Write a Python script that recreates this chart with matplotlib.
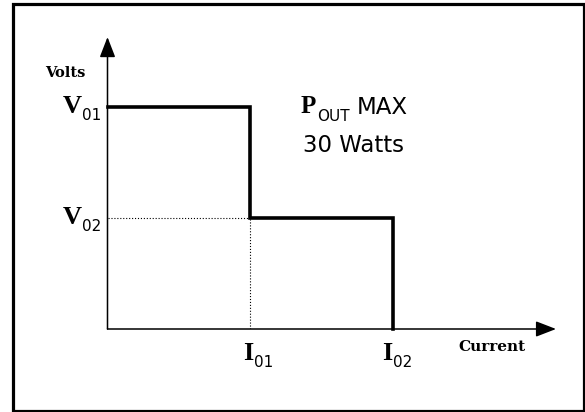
import matplotlib.pyplot as plt
from matplotlib.patches import Rectangle

# puntos de operacion (unidades relativas)
I_pts = [1, 2]
V_pts = [2, 1]
I_subs = ['01', '02']
V_subs = ['01', '02']

# curva de salida
curva_I = [0, 1, 1, 2, 2]
curva_V = [2, 2, 1, 1, 0]

serif_b = dict(family='Liberation Serif', weight='bold')
sans = dict(family='DejaVu Sans')

fig = plt.figure(figsize=(5.85, 4.12), dpi=100)
ax = fig.add_axes([107.5 / 585, 83 / 412, 3.2 * 142.75 / 585, 2.7 * 111 / 412])
ax.set_xlim(0, 3.2)
ax.set_ylim(0, 2.7)
ax.axis('off')

# marco
fig.add_artist(Rectangle((12.5 / 585, 1.5 / 412), 571.5 / 585, 407 / 412,
                         transform=fig.transFigure, fill=False, lw=2.3, color='black'))

# ejes con flechas
arrow = dict(arrowstyle='-|>,head_length=0.62,head_width=0.24', lw=1.1,
             color='black', mutation_scale=20, shrinkA=0, shrinkB=0)
ax.annotate('', xy=(3.142, 0), xytext=(0, 0), arrowprops=arrow, annotation_clip=False)
ax.annotate('', xy=(0, 2.63), xytext=(0, 0), arrowprops=arrow, annotation_clip=False)

# lineas punteadas
ax.plot([0, I_pts[0]], [V_pts[1], V_pts[1]], ':', color='black', lw=0.8)
ax.plot([I_pts[0], I_pts[0]], [0, V_pts[1]], ':', color='black', lw=0.8)

# curva
ax.plot(curva_I, curva_V, color='black', lw=2.6, solid_joinstyle='miter', clip_on=False)

# etiquetas de corriente
for x, sub, dx in zip(I_pts, I_subs, [-0.051, -0.077]):
    ax.text(x + dx, -0.279, 'I', fontsize=19, ha='left', va='baseline', **serif_b)
    ax.text(x + dx + 0.075, -0.342, sub, fontsize=11, ha='left', va='baseline', **sans)

# etiquetas de voltaje
for y, sub in zip(V_pts, V_subs):
    ax.text(-0.315, y - 0.054, 'V', fontsize=19, ha='left', va='baseline', **serif_b)
    ax.text(-0.178, y - 0.117, sub, fontsize=11, ha='left', va='baseline', **sans)

ax.text(-0.438, 2.306, 'Volts', family='DejaVu Serif', weight='bold',
        fontsize=10.5, ha='left', va='center')
ax.text(2.455, -0.162, 'Current', family='DejaVu Serif', weight='bold',
        fontsize=11, ha='left', va='center')

# potencia maxima
ax.text(1.355, 1.946, 'P', fontsize=18, ha='left', va='baseline', **serif_b)
ax.text(1.47, 1.874, 'OUT', fontsize=11, ha='left', va='baseline', **sans)
ax.text(1.745, 1.937, 'MAX', fontsize=16.5, ha='left', va='baseline', **sans)
ax.text(1.37, 1.595, '30 Watts', fontsize=16.5, ha='left', va='baseline', **sans)

fig.savefig('out.png', dpi=100)
